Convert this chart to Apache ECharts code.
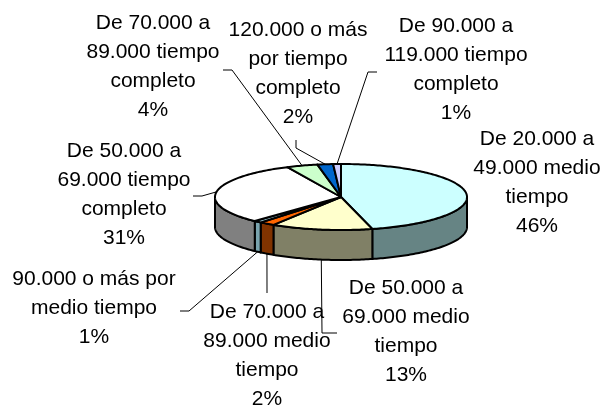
<!DOCTYPE html>
<html><head><meta charset="utf-8">
<script src="https://cdn.jsdelivr.net/npm/echarts@6/dist/echarts.min.js"></script>
<style>html,body{margin:0;padding:0;background:#fff}#c{width:604px;height:409px}</style>
</head><body><div id="c"></div>
<script>
// ---- data ----
const categories = [
  'De 20.000 a\n49.000 medio\ntiempo',
  'De 50.000 a\n69.000 medio\ntiempo',
  'De 70.000 a\n89.000 medio\ntiempo',
  '90.000 o más por\nmedio tiempo',
  'De 50.000 a\n69.000 tiempo\ncompleto',
  'De 70.000 a\n89.000 tiempo\ncompleto',
  '120.000 o más\npor tiempo\ncompleto',
  'De 90.000 a\n119.000 tiempo\ncompleto'
];
const values = [46, 13, 2, 1, 31, 4, 2, 1];

// ---- styles / layout ----
const topColors  = ['#CCFFFF','#FFFFCC','#FF6600','#A6D8E6','#FFFFFF','#CCFFCC','#0066CC','#CCCCFF'];
const sideColors = ['#668484','#808066','#803300','#7AA4AE','#808080','#668066','#003366','#666680'];
const geo = {cx: 341, cy: 197, rx: 126, ry: 33, depth: 30};
const labelPos = [
  {x: 537, y: 183, leader: null},
  {x: 406, y: 332, leader: [[322, 333], [337, 333]]},
  {x: 267, y: 356, leader: [[267, 293]]},
  {x: 94,  y: 308, leader: [[189, 311], [180, 311]]},
  {x: 124, y: 195, leader: [[202, 196], [193, 196]]},
  {x: 153, y: 67,  leader: [[232, 70], [223, 70]]},
  {x: 298, y: 74,  leader: [[296, 148], [296, 140]]},
  {x: 456, y: 70,  leader: [[368, 72], [377, 72]]}
];

const total = values.reduce((a, b) => a + b, 0);
const RAD = Math.PI / 180;
function pt(deg, dy) {
  return [geo.cx + geo.rx * Math.sin(deg * RAD), geo.cy - geo.ry * Math.cos(deg * RAD) + (dy || 0)];
}

function renderItem(params, api) {
  const i = params.dataIndex;
  const v = api.value(0);
  let start = 0;
  for (let k = 0; k < i; k++) start += values[k];
  const a0 = start / total * 360, a1 = (start + v) / total * 360;
  const children = [];

  // side wall (front half only: 90..270 degrees)
  const s0 = Math.max(a0, 90), s1 = Math.min(a1, 270);
  if (s1 > s0) {
    const top = [], bot = [];
    const n = Math.max(2, Math.ceil(s1 - s0));
    for (let j = 0; j <= n; j++) {
      const d = s0 + (s1 - s0) * j / n;
      top.push(pt(d, 0));
      bot.push(pt(d, geo.depth));
    }
    children.push({
      type: 'polygon', z2: 1,
      shape: {points: top.concat(bot.reverse())},
      style: {fill: sideColors[i], stroke: '#000', lineWidth: 2, lineJoin: 'round'}
    });
  }

  // top face
  const pts = [[geo.cx, geo.cy]];
  const n = Math.max(2, Math.ceil(a1 - a0));
  for (let j = 0; j <= n; j++) pts.push(pt(a0 + (a1 - a0) * j / n, 0));
  children.push({
    type: 'polygon', z2: 2,
    shape: {points: pts},
    style: {fill: topColors[i], stroke: '#000', lineWidth: 2, lineJoin: 'round'}
  });

  // label
  const lp = labelPos[i];
  const pct = Math.round(v / total * 100) + '%';
  children.push({
    type: 'text', z2: 5,
    style: {
      text: categories[i] + '\n' + pct,
      x: lp.x, y: lp.y,
      align: 'center', verticalAlign: 'middle',
      font: '21px "Liberation Sans", Arial, sans-serif',
      lineHeight: 29,
      fill: '#000'
    }
  });

  // leader line
  if (lp.leader) {
    const mid = (a0 + a1) / 2;
    const front = Math.cos(mid * RAD) < 0;
    const anchor = pt(mid, front ? geo.depth : 0);
    children.push({
      type: 'polyline', z2: 4,
      shape: {points: [anchor].concat(lp.leader)},
      style: {stroke: '#000', lineWidth: 1, fill: null}
    });
  }
  return {type: 'group', children: children};
}

const chart = echarts.init(document.getElementById('c'), null, {renderer: 'canvas'});
chart.setOption({
  animation: false,
  backgroundColor: '#fff',
  series: [{
    type: 'custom',
    coordinateSystem: 'none',
    renderItem: renderItem,
    data: values.map((v, i) => ({value: [v], name: categories[i]}))
  }]
});
</script>
</body></html>
